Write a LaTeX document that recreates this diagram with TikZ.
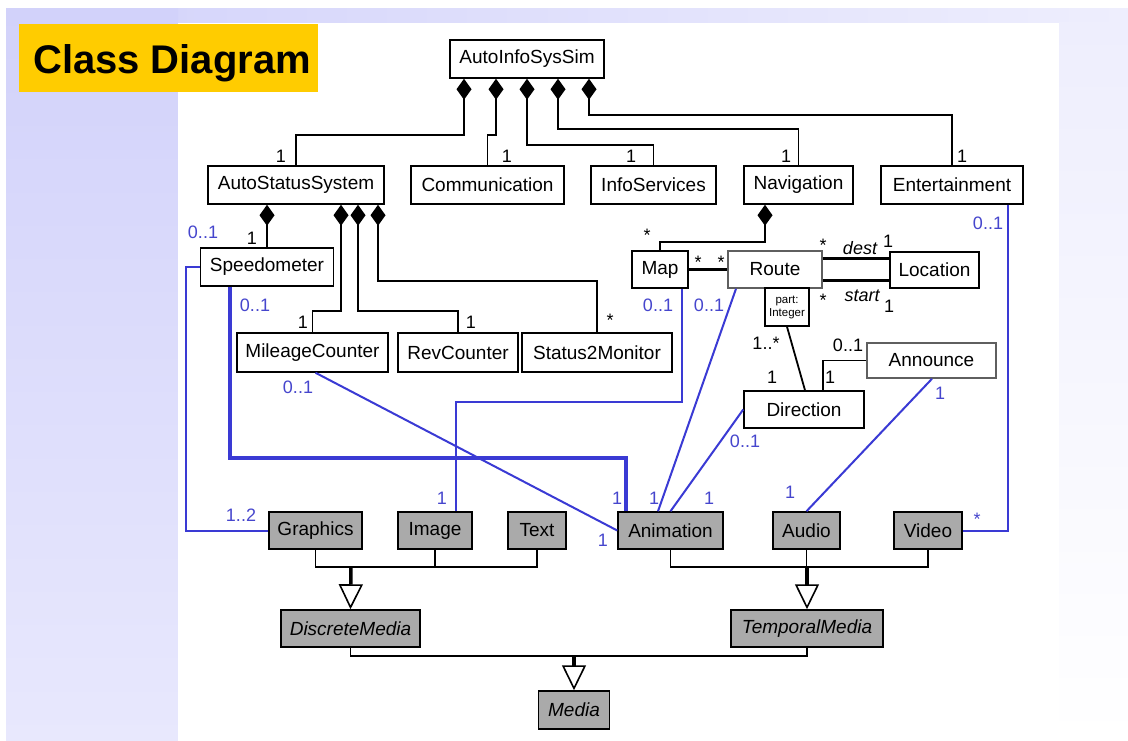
\documentclass[tikz,border=0pt]{standalone}
\usepackage{fontspec}
\setmainfont{Liberation Sans}
\usetikzlibrary{arrows.meta,calc}
\definecolor{lavtop}{RGB}{210,210,250}
\definecolor{lavbot}{RGB}{232,232,253}
\definecolor{lavpale}{RGB}{238,238,253}
\definecolor{titlebg}{RGB}{255,204,0}
\definecolor{assoc}{RGB}{58,58,212}
\definecolor{lblue}{RGB}{70,70,205}
\definecolor{mgray}{RGB}{170,170,170}
\definecolor{rimgray}{RGB}{95,95,95}
\tikzset{
  cls/.style={draw, line width=1.5pt, fill=white, inner sep=0pt,
    font=\fontsize{19}{19}\selectfont, minimum height=38pt},
  mediacls/.style={cls, fill=mgray},
  comp/.style={line width=1.8pt, {Diamond[length=21pt,width=15pt]}-},
  link/.style={line width=1.8pt},
  boldlink/.style={line width=3.2pt},
  genbranch/.style={line width=1.8pt},
  genstem/.style={line width=3.5pt,
    -{Triangle[length=25pt,width=24pt,fill=white,line width=1.6pt]}},
  assocline/.style={draw=assoc, line width=2pt},
  assocthick/.style={draw=assoc, line width=4pt},
  ml/.style={font=\fontsize{18}{18}\selectfont, inner sep=0pt},
  bl/.style={ml, text=lblue},
  role/.style={ml, font=\fontsize{18}{18}\selectfont\itshape}
}
\begin{document}
\begin{tikzpicture}[x=1pt,y=-1pt]
\useasboundingbox (0,0) rectangle (1128,741);
% page background
\fill[white] (0,0) rectangle (1128,741);
\shade[left color=lavtop, right color=lavpale] (6,9) rectangle (1128,23);
\shade[top color=lavtop, bottom color=lavbot] (6,9) rectangle (178,741);
\shade[top color=lavpale, bottom color=white] (1059,23) rectangle (1128,741);
\fill[white] (178,23) rectangle (1059,741);
% title
\fill[titlebg] (19,24) rectangle (318,92);
\node[anchor=base west, inner sep=0pt, font=\fontsize{40}{40}\selectfont\bfseries] (title) at (33,74) {Class Diagram};

% classes
\node[cls, minimum width=154pt] (sim) at (527,59) {AutoInfoSysSim};
\node[cls, minimum width=176pt] (ass) at (296,185) {AutoStatusSystem};
\node[cls, minimum width=153pt] (comm) at (487.5,185) {Communication};
\node[cls, minimum width=125pt] (info) at (653.5,185) {InfoServices};
\node[cls, minimum width=109pt] (nav) at (798.5,185) {Navigation};
\node[cls, minimum width=142pt] (ent) at (952,185) {Entertainment};
\node[cls, minimum width=133pt] (speedo) at (267,267) {Speedometer};
\node[cls, minimum width=151pt, minimum height=39pt] (mile) at (312.5,352.5) {MileageCounter};
\node[cls, minimum width=120pt, minimum height=39pt] (rev) at (458,352.5) {RevCounter};
\node[cls, minimum width=150pt, minimum height=39pt] (s2m) at (597,352.5) {Status2Monitor};
\node[cls, minimum width=56pt, minimum height=37pt] (map) at (660,269.5) {Map};
\node[cls, minimum width=94pt, minimum height=37pt, draw=rimgray] (route) at (775,269.5) {Route};
\node[cls, minimum width=89pt, minimum height=36pt] (loc) at (934.5,270) {Location};
\node[cls, minimum width=44pt, minimum height=38pt, align=center,
  font=\fontsize{11.5}{13}\selectfont] (qual) at (787,307) {part:\\Integer};
\node[cls, minimum width=120pt, minimum height=37pt] (dir) at (804,409.5) {Direction};
\node[cls, minimum width=129pt, minimum height=35pt, draw=rimgray] (ann) at (931.5,360.5) {Announce};

% media classes
\node[mediacls, minimum width=93pt, minimum height=37pt] (graphics) at (315.5,530.5) {Graphics};
\node[mediacls, minimum width=74pt, minimum height=37pt] (image) at (435,530.5) {Image};
\node[mediacls, minimum width=58pt, minimum height=37pt] (text) at (537,530.5) {Text};
\node[mediacls, minimum width=105pt, minimum height=37pt] (anim) at (670.5,530.5) {Animation};
\node[mediacls, minimum width=67pt, minimum height=37pt] (audio) at (806.5,530.5) {Audio};
\node[mediacls, minimum width=68pt, minimum height=37pt] (video) at (928,530.5) {Video};
\node[mediacls, minimum width=139pt, minimum height=37pt, font=\fontsize{19}{19}\selectfont\itshape] (dm) at (350.5,628.5) {DiscreteMedia};
\node[mediacls, minimum width=152pt, minimum height=37pt, font=\fontsize{19}{19}\selectfont\itshape] (tm) at (807,628.5) {TemporalMedia};
\node[mediacls, minimum width=71pt, minimum height=38pt, font=\fontsize{19}{19}\selectfont\itshape] (media) at (574,710) {Media};

% compositions of AutoInfoSysSim
\draw[comp] ([xshift=-63pt]sim.south) -- ++(0,56) -| (ass.north);
\draw[comp] ([xshift=-31pt]sim.south) -- ++(0,56) -| (comm.north);
\draw[comp] (sim.south) -- ++(0,66) -| (info.north);
\draw[comp] ([xshift=31pt]sim.south) -- ++(0,50) -| (nav.north);
\draw[comp] ([xshift=62pt]sim.south) -- ++(0,36) -| (ent.north);

% compositions of AutoStatusSystem
\draw[comp] ([xshift=-29pt]ass.south) -- (speedo.north);
\draw[comp] ([xshift=45pt]ass.south) -- ++(0,106) -| (mile.north);
\draw[comp] ([xshift=62pt]ass.south) -- ++(0,106) -| (rev.north);
\draw[comp] ([xshift=82pt]ass.south) -- ++(0,76) -| (s2m.north);

% navigation part
\draw[comp] ([xshift=-33.5pt]nav.south) -- ++(0,37) -| (map.north);
\draw[boldlink] (map.east) -- (route.west);
\draw[boldlink] ([yshift=11pt]route.east) -- ([yshift=11.5pt]loc.west);
\draw[boldlink] ([yshift=-11pt]route.east) -- ([yshift=-10.5pt]loc.west);
\draw[link] (qual.south) -- ([xshift=1pt]dir.north);
\draw[link] ([xshift=19pt]dir.north) |- (ann.west);

% associations with the media classes
\draw[assocline] (speedo.west) -- ++(-13.5,0) |- (graphics.west);
\draw[assocthick] ([xshift=-37pt]speedo.south) -- ++(0,171) -| ([xshift=-44.5pt]anim.north);
\draw[assocline] ([xshift=3pt]mile.south) -- (anim.west);
\draw[assocline] ([xshift=22pt]map.south) -- ++(0,113) -| ([xshift=21pt]image.north);
\draw[assocline] ([xshift=-39pt]route.south) -- ([xshift=-12.5pt]anim.north);
\draw[assocline] (dir.west) -- (anim.north);
\draw[assocline] ([xshift=0.5pt]ann.south) -- (audio.north);
\draw[assocline] ([xshift=56pt]ent.south) |- (video.east);

% generalizations
\coordinate (jd) at (351,567);
\coordinate (jt) at (807,567);
\coordinate (jm) at (574,656);
\draw[genbranch] (graphics.south) |- (jd) -| (text.south);
\draw[genbranch] (image.south) -- (image.south |- jd);
\draw[genstem] (jd) -- (dm.north);
\draw[genbranch] (anim.south) |- (jt) -| (video.south);
\draw[genbranch] (audio.south) -- (audio.south |- jt);
\draw[genstem] (jt) -- (tm.north);
\draw[genbranch] (dm.south) |- (jm) -| (tm.south);
\draw[genstem] (jm) -- (media.north);

% multiplicities
\node[ml] (m1) at (281,156) {1};
\node[ml] (m2) at (507,156) {1};
\node[ml] (m3) at (631,156) {1};
\node[ml] (m4) at (786,156) {1};
\node[ml] (m5) at (962,156) {1};
\node[ml] (m6) at (252,238) {1};
\node[ml] (m7) at (303,322) {1};
\node[ml] (m8) at (471,322) {1};
\node[ml] (m9) at (610,320) {*};
\node[ml] (m10) at (647,235) {*};
\node[ml] (m11) at (698,262) {*};
\node[ml] (m12) at (721,262) {*};
\node[ml] (m13) at (823,245) {*};
\node[role] (m14) at (860,248) {dest};
\node[ml] (m15) at (888,241) {1};
\node[ml] (m16) at (823,300) {*};
\node[role] (m17) at (862,296) {start};
\node[ml] (m18) at (889,306) {1};
\node[ml] (m19) at (766,343) {1..*};
\node[ml] (m20) at (772,377) {1};
\node[ml] (m21) at (848,345) {0..1};
\node[ml] (m22) at (830,377) {1};

% association multiplicities
\node[bl] (b1) at (203,232) {0..1};
\node[bl] (b2) at (255,305) {0..1};
\node[bl] (b3) at (298,387) {0..1};
\node[bl] (b4) at (658,305) {0..1};
\node[bl] (b5) at (709,305) {0..1};
\node[bl] (b6) at (988,223) {0..1};
\node[bl] (b7) at (940,393) {1};
\node[bl] (b8) at (745,441) {0..1};
\node[bl] (b9) at (241,515) {1..2};
\node[bl] (b10) at (442,498) {1};
\node[bl] (b11) at (617,498) {1};
\node[bl] (b12) at (654,498) {1};
\node[bl] (b13) at (709,498) {1};
\node[bl] (b14) at (603,540) {1};
\node[bl] (b15) at (790,492) {1};
\node[bl] (b16) at (977,519) {*};
\end{tikzpicture}
\end{document}
